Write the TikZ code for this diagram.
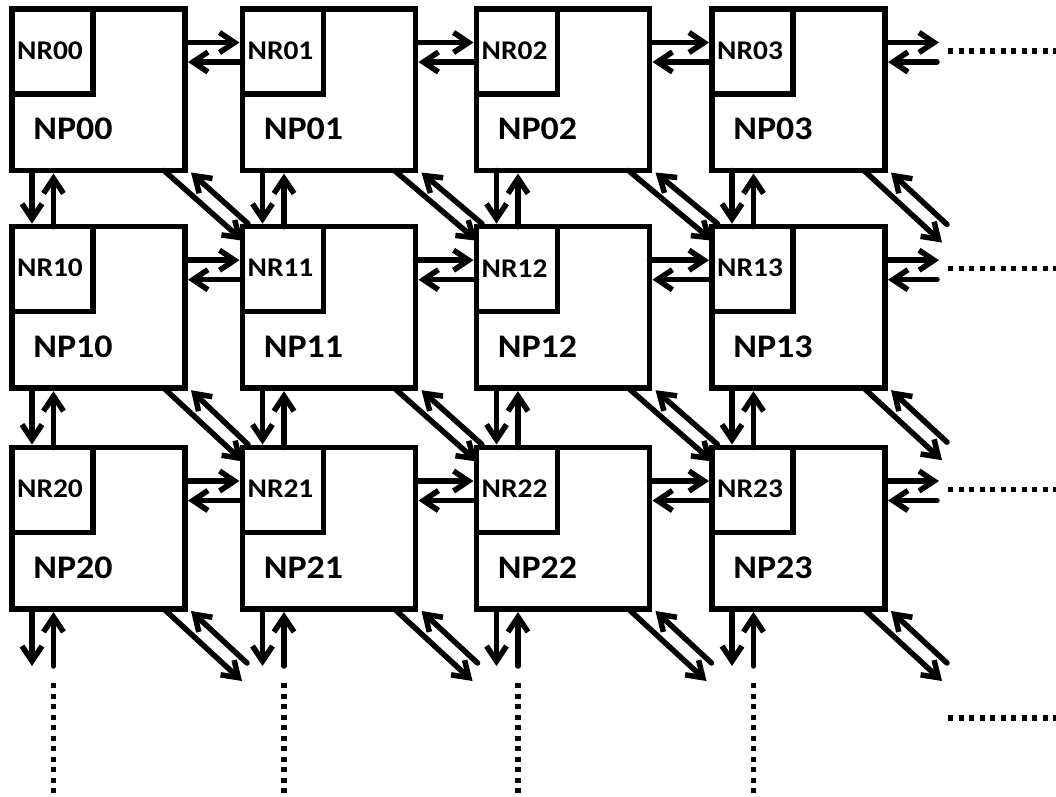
\documentclass[tikz,border=0pt]{standalone}
\usepackage{fontspec}
\newfontfamily\calib{Carlito}[FakeStretch=1.09]
\usetikzlibrary{arrows.meta,calc}
\begin{document}
\begin{tikzpicture}[x=1pt,y=-1pt,
  line width=5.5pt,
  pbox/.style={draw, rectangle, minimum width=173pt, minimum height=161.5pt, inner sep=0pt, outer sep=0pt},
  rbox/.style={draw, rectangle, minimum width=81pt, minimum height=85pt, inner sep=0pt, outer sep=0pt},
  rlabel/.style={inner sep=0pt, font=\calib\bfseries\fontsize{27}{27}\selectfont},
  plabel/.style={inner sep=0pt, font=\calib\bfseries\fontsize{33}{33}\selectfont},
  arr/.style={-{Straight Barb[length=15pt,width=20pt]}, line cap=round},
  dots/.style={line width=5.5pt, dash pattern=on 5pt off 5.5pt}
]
\useasboundingbox (0,0) rectangle (1056,796);
% boxes
\foreach \i/\T in {0/9,1/226.7,2/447.5} {
  \foreach \j/\L in {0/12,1/242.5,2/476.5,3/712} {
    \node[pbox, anchor=north west] (np\i\j) at (\L,\T) {};
    \node[rbox, anchor=north west] (nr\i\j) at (\L,\T) {};
    \node[rlabel] (nrl\i\j) at (\L+38,\T+41.5) {NR\i\j};
    \node[plabel] (npl\i\j) at (\L+61,\T+120) {NP\i\j};
  }
}
% horizontal links
\foreach \i in {0,1,2} {
  \foreach \j/\k in {0/1,1/2,2/3} {
    \draw[arr] ($(np\i\j.north east)+(0,33.5)$) -- ($(np\i\k.north west)+(-3,33.5)$);
    \draw[arr] ($(np\i\k.north west)+(0,53)$) -- ($(np\i\j.north east)+(3,53)$);
  }
  % right edge
  \coordinate (eo\i) at ($(np\i3.north east)+(54,33.5)$);
  \coordinate (ei\i) at ($(np\i3.north east)+(52,53)$);
  \draw[arr] ($(np\i3.north east)+(0,33.5)$) -- (eo\i);
  \draw[arr] (ei\i) -- ($(np\i3.north east)+(3,53)$);
  \coordinate (hd\i a) at ($(np\i3.north east)+(63,42)$);
  \coordinate (hd\i b) at ($(np\i3.north east)+(180,42)$);
  \draw[dots] (hd\i a) -- (hd\i b);
}
% vertical links
\foreach \i/\n in {0/1,1/2} {
  \foreach \j in {0,1,2,3} {
    \draw[arr] ($(np\i\j.south west)+(20,0)$) -- ($(np\n\j.north west)+(20,-3)$);
    \draw[arr] ($(np\n\j.north west)+(41.5,0)$) -- ($(np\i\j.south west)+(41.5,3)$);
  }
}
\foreach \j in {0,1,2,3} {
  \coordinate (bo\j) at ($(np2\j.south west)+(20,57)$);
  \coordinate (bi\j) at ($(np2\j.south west)+(41.5,57)$);
  \draw[arr] ($(np2\j.south west)+(20,0)$) -- (bo\j);
  \draw[arr] (bi\j) -- ($(np2\j.south west)+(41.5,3)$);
  \coordinate (vd\j a) at ($(np2\j.south west)+(41.5,74)$);
  \coordinate (vd\j b) at (vd\j a |- 0,810);
  \draw[dots] (vd\j a) -- (vd\j b);
}
% diagonal links
\foreach \i/\n in {0/1,1/2} {
  \foreach \j/\k in {0/1,1/2,2/3} {
    \draw[arr] ($(np\i\j.south east)+(-21,0)$) -- ($(np\n\k.north west)+(0.5,14)$);
    \draw[arr] ($(np\n\k.north west)+(5.5,-3)$) -- ($(np\i\j.south east)+(6,2)$);
  }
}
\foreach \i/\j in {0/3,1/3,2/0,2/1,2/2,2/3} {
  \coordinate (do\i\j) at ($(np\i\j.south east)+(57,72)$);
  \coordinate (di\i\j) at ($(np\i\j.south east)+(62,54)$);
  \draw[arr] ($(np\i\j.south east)+(-21,0)$) -- (do\i\j);
  \draw[arr] (di\i\j) -- ($(np\i\j.south east)+(6,2)$);
}
% extra dotted line lower right
\coordinate (xa) at (948,718);
\coordinate (xb) at (1070,718);
\draw[dots] (xa) -- (xb);
\end{tikzpicture}
\end{document}
